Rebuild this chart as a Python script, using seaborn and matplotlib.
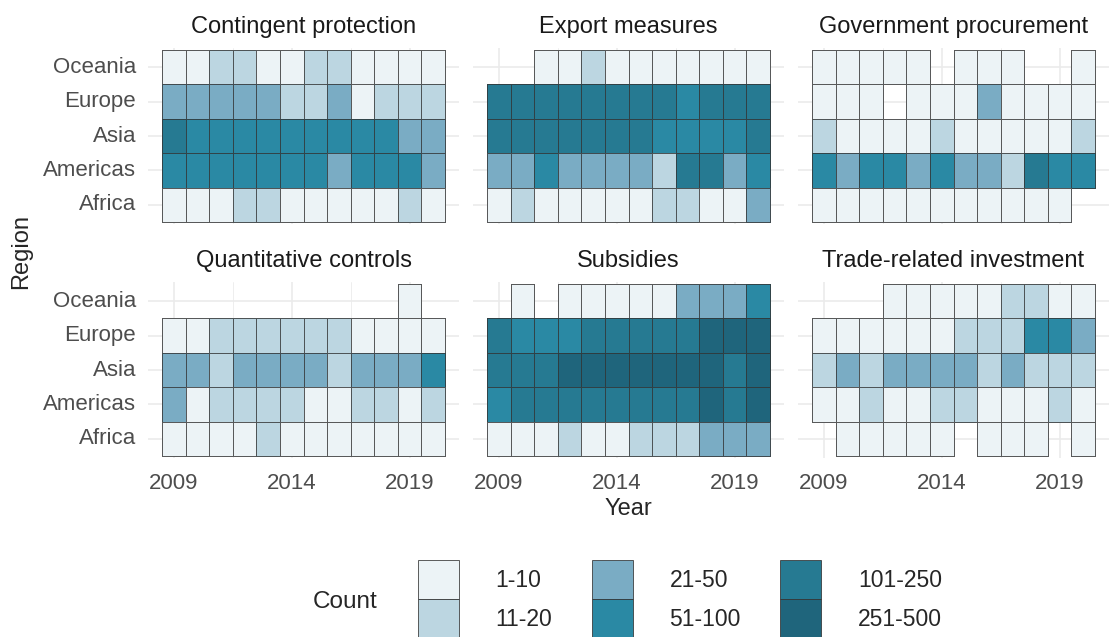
import matplotlib
matplotlib.use("Agg")
import matplotlib.pyplot as plt
import numpy as np
import pandas as pd
import seaborn as sns
from matplotlib.colors import ListedColormap
from matplotlib.patches import Patch

YEARS = list(range(2009, 2021))
REGIONS = ["Oceania", "Europe", "Asia", "Americas", "Africa"]
BINS = ["1-10", "11-20", "21-50", "51-100", "101-250", "251-500"]
BIN_COLORS = ["#ecf3f6", "#bcd6e1", "#7aacc4", "#2a89a4", "#267a92", "#1f657c"]
MEASURES = ["Contingent protection", "Export measures", "Government procurement",
            "Quantitative controls", "Subsidies", "Trade-related investment"]

# count bin per region (rows: Oceania -> Africa) and year 2009-2020; 0 = nothing recorded
contingent_protection = [
    [1, 1, 2, 2, 1, 1, 2, 2, 1, 1, 1, 1],
    [3, 3, 3, 3, 3, 2, 2, 3, 1, 2, 2, 2],
    [5, 4, 4, 4, 4, 4, 4, 4, 4, 4, 3, 3],
    [4, 4, 4, 4, 4, 4, 4, 3, 4, 4, 4, 3],
    [1, 1, 1, 2, 2, 1, 1, 1, 1, 1, 2, 1],
]
export_measures = [
    [0, 0, 1, 1, 2, 1, 1, 1, 1, 1, 1, 1],
    [5, 5, 5, 5, 5, 5, 5, 5, 4, 5, 5, 5],
    [5, 5, 5, 5, 5, 5, 5, 4, 4, 4, 4, 5],
    [3, 3, 4, 3, 3, 3, 3, 2, 5, 5, 3, 4],
    [1, 2, 1, 1, 1, 1, 1, 2, 2, 1, 1, 3],
]
government_procurement = [
    [1, 1, 1, 1, 1, 0, 1, 1, 1, 0, 0, 1],
    [1, 1, 1, 0, 1, 1, 1, 3, 1, 1, 1, 1],
    [2, 1, 1, 1, 1, 2, 1, 1, 1, 1, 1, 2],
    [4, 3, 4, 4, 3, 4, 3, 3, 2, 5, 4, 4],
    [1, 1, 1, 1, 1, 1, 1, 1, 1, 1, 1, 0],
]
quantitative_controls = [
    [0, 0, 0, 0, 0, 0, 0, 0, 0, 0, 1, 0],
    [1, 1, 2, 2, 2, 2, 2, 2, 1, 1, 1, 1],
    [3, 3, 2, 3, 3, 3, 3, 2, 3, 3, 3, 4],
    [3, 1, 2, 2, 2, 2, 1, 1, 2, 2, 1, 2],
    [1, 1, 1, 1, 2, 1, 1, 1, 1, 1, 1, 1],
]
subsidies = [
    [0, 1, 0, 1, 1, 1, 1, 1, 3, 3, 3, 4],
    [5, 4, 4, 4, 5, 5, 5, 5, 5, 6, 6, 6],
    [5, 5, 5, 6, 6, 6, 6, 6, 6, 6, 5, 6],
    [4, 5, 5, 5, 5, 5, 5, 5, 5, 6, 5, 6],
    [1, 1, 1, 2, 1, 1, 2, 2, 2, 3, 3, 3],
]
trade_related_investment = [
    [0, 0, 0, 1, 1, 1, 1, 1, 2, 2, 1, 1],
    [1, 1, 1, 1, 1, 1, 2, 2, 2, 4, 4, 3],
    [2, 3, 2, 3, 3, 3, 3, 2, 3, 2, 2, 2],
    [1, 1, 2, 1, 1, 2, 2, 1, 1, 1, 2, 1],
    [0, 1, 1, 1, 1, 1, 0, 1, 1, 1, 0, 1],
]
GRIDS = [contingent_protection, export_measures, government_procurement,
         quantitative_controls, subsidies, trade_related_investment]

rows = []
for measure, grid in zip(MEASURES, GRIDS):
    for region, codes in zip(REGIONS, grid):
        for year, code in zip(YEARS, codes):
            if code:
                rows.append((measure, region, year, code))
df = pd.DataFrame(rows, columns=["measure", "region", "year", "bin"])

sns.set_theme(style="white")
plt.rcParams["font.family"] = ["Liberation Sans", "DejaVu Sans"]

W, H = 1109, 637
fig = plt.figure(figsize=(W / 100, H / 100), dpi=100)

cmap = ListedColormap(BIN_COLORS)
edge = (0.2, 0.2, 0.2, 0.8)
grid_col = "#ebebeb"
tick_col = "#4d4d4d"

lefts = [148, 473, 798]
tops = [48, 282]
pw, ph = 311, 176

for i, measure in enumerate(MEASURES):
    r, c = divmod(i, 3)
    ax = fig.add_axes([lefts[c] / W, 1 - (tops[r] + ph) / H, pw / W, ph / H])
    pivot = (df[df.measure == measure]
             .pivot(index="region", columns="year", values="bin")
             .reindex(index=REGIONS, columns=YEARS))
    sns.heatmap(pivot, ax=ax, cmap=cmap, vmin=0.5, vmax=6.5, cbar=False,
                linewidths=0.7, linecolor=edge)
    # no outline for empty cells
    mesh = ax.collections[0]
    ec = np.tile(edge, (pivot.size, 1))
    ec[pivot.isna().values.ravel()] = (0, 0, 0, 0)
    mesh.set_edgecolor(ec)

    ax.set_xlim(-0.6, len(YEARS) + 0.6)
    ax.set_ylim(len(REGIONS) + 0.06, -0.06)
    ax.set_axisbelow(True)
    ax.set_xticks([0.5, 5.5, 10.5])
    ax.set_xticks([3, 8], minor=True)
    ax.set_yticks([k + 0.5 for k in range(len(REGIONS))])
    ax.grid(True, which="major", color=grid_col, lw=1.2)
    ax.grid(True, which="minor", axis="x", color=grid_col, lw=0.6)
    ax.set_xlabel("")
    ax.set_ylabel("")
    for s in ax.spines.values():
        s.set_visible(False)
    ax.tick_params(which="both", length=0, colors=tick_col, labelsize=16)
    ax.tick_params(axis="y", pad=8.5)
    ax.tick_params(axis="x", pad=11)
    if c == 0:
        ax.set_yticklabels(REGIONS, rotation=0)
    else:
        ax.tick_params(axis="y", labelleft=False)
    if r == 1:
        ax.set_xticklabels(["2009", "2014", "2019"], rotation=0)
    else:
        ax.tick_params(axis="x", labelbottom=False)
    ax.annotate(measure, xy=(0.5, 1), xycoords="axes fraction", xytext=(0, 15),
                textcoords="offset points", ha="center", va="center", fontsize=17,
                color="#1a1a1a")

fig.text(628 / W, 1 - 509 / H, "Year", ha="center", va="center", fontsize=17)
fig.text(21 / W, 1 - 252 / H, "Region", ha="center", va="center", fontsize=17,
         rotation=90)

handles = [Patch(facecolor=col, edgecolor=edge, linewidth=0.7, label=lab)
           for col, lab in zip(BIN_COLORS, BINS)]
fig.legend(handles=handles, ncol=3, loc="upper left",
           bbox_to_anchor=(418 / W, 1 - 560 / H), frameon=False, borderpad=0,
           borderaxespad=0, handlelength=1.79, handleheight=2.25,
           handletextpad=1.6, columnspacing=1.72, labelspacing=0, fontsize=16.5)
fig.text(345 / W, 1 - 602 / H, "Count", ha="center", va="center", fontsize=17.5)

fig.savefig("out.png", dpi=100)
